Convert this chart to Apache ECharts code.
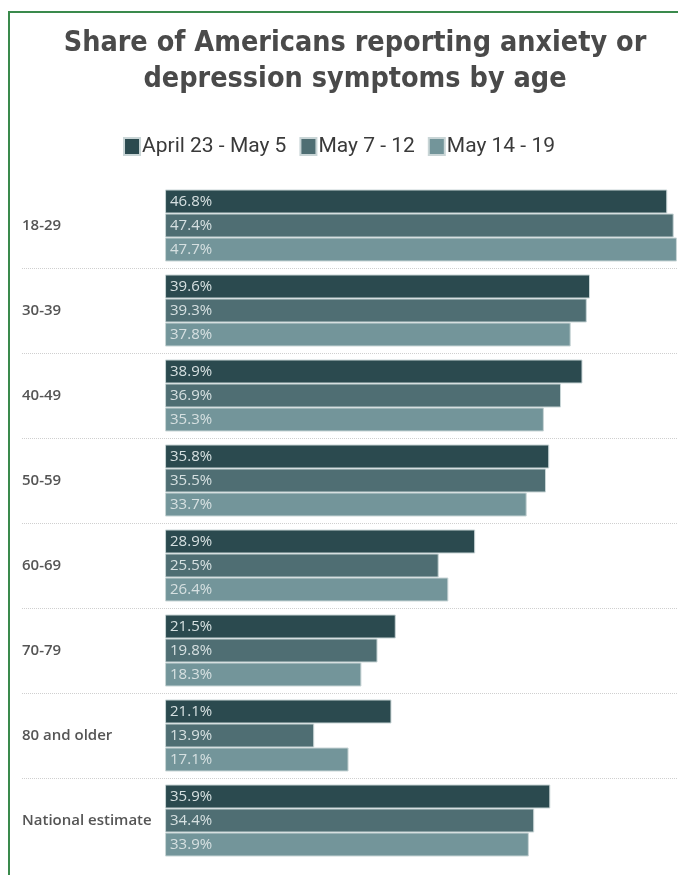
<!DOCTYPE html>
<html>
<head>
<meta charset="utf-8">
<script src="https://cdn.jsdelivr.net/npm/echarts@6/dist/echarts.min.js"></script>
<style>
  html, body { margin: 0; padding: 0; background: #ffffff; }
  #chart { width: 678px; height: 875px; }
  #frame {
    position: absolute; left: 8px; top: 11px; right: 0; bottom: 0;
    border-top: 2px solid #3a8a4c; border-left: 2px solid #3a8a4c;
    pointer-events: none;
  }
</style>
</head>
<body>
<div id="chart"></div>
<div id="frame"></div>
<script>
// Age groups and survey waves
const categories = ['18-29', '30-39', '40-49', '50-59', '60-69', '70-79', '80 and older', 'National estimate'];
const seriesNames = ['April 23 - May 5', 'May 7 - 12', 'May 14 - 19'];
const aprilToMay5 = [46.8, 39.6, 38.9, 35.8, 28.9, 21.5, 21.1, 35.9];
const may7To12 = [47.4, 39.3, 36.9, 35.5, 25.5, 19.8, 13.9, 34.4];
const may14To19 = [47.7, 37.8, 35.3, 33.7, 26.4, 18.3, 17.1, 33.9];

const colors = ['#2b4a4f', '#4f6e73', '#73959a'];
const values = [aprilToMay5, may7To12, may14To19];

// dotted separators between groups; the last boundary line stays invisible
const separatorColors = categories.map((c, i) => i < categories.length - 1 ? '#cfcfcf' : 'rgba(0,0,0,0)');

const chart = echarts.init(document.getElementById('chart'), null, { renderer: 'canvas' });

const series = seriesNames.map((name, i) => ({
  name: name,
  type: 'bar',
  data: values[i],
  barWidth: 24,
  barGap: '0%',
  itemStyle: { color: colors[i], borderColor: '#c9d5d6', borderWidth: 1 },
  label: {
    show: true,
    position: 'insideLeft',
    distance: 5,
    formatter: '{c}%',
    color: '#d6e0e1',
    fontFamily: 'Open Sans',
    fontSize: 15,
    fontWeight: 500
  },
  emphasis: { disabled: true }
}));

chart.setOption({
  animation: false,
  color: colors,
  title: {
    text: 'Share of Americans reporting anxiety or\ndepression symptoms by age',
    left: 350,
    top: 21,
    textAlign: 'center',
    textStyle: {
      fontFamily: 'DejaVu Sans Condensed',
      fontWeight: 'bold',
      fontSize: 28.5,
      lineHeight: 36,
      color: '#4a4a4a'
    }
  },
  legend: {
    top: 131,
    left: 'center',
    itemWidth: 16,
    itemHeight: 17,
    itemGap: 13,
    icon: 'rect',
    textStyle: { fontFamily: 'Roboto', fontSize: 21, color: '#3a3a3a', padding: [0, 0, 0, -3] },
    data: seriesNames
  },
  grid: { left: 22, right: 0, top: 183, height: 680 },
  xAxis: {
    type: 'value',
    min: -13.33,
    max: 47.8,
    show: false
  },
  yAxis: {
    type: 'category',
    inverse: true,
    data: categories,
    axisLine: { show: false, onZero: false },
    axisTick: { show: false },
    axisLabel: {
      align: 'left',
      margin: 0,
      fontFamily: 'Open Sans',
      fontWeight: 600,
      fontSize: 15,
      color: '#555555'
    },
    splitLine: {
      show: true,
      interval: function (index) { return index > 0; },
      lineStyle: { type: 'dotted', color: separatorColors, width: 1 }
    }
  },
  series: series
});
</script>
</body>
</html>
